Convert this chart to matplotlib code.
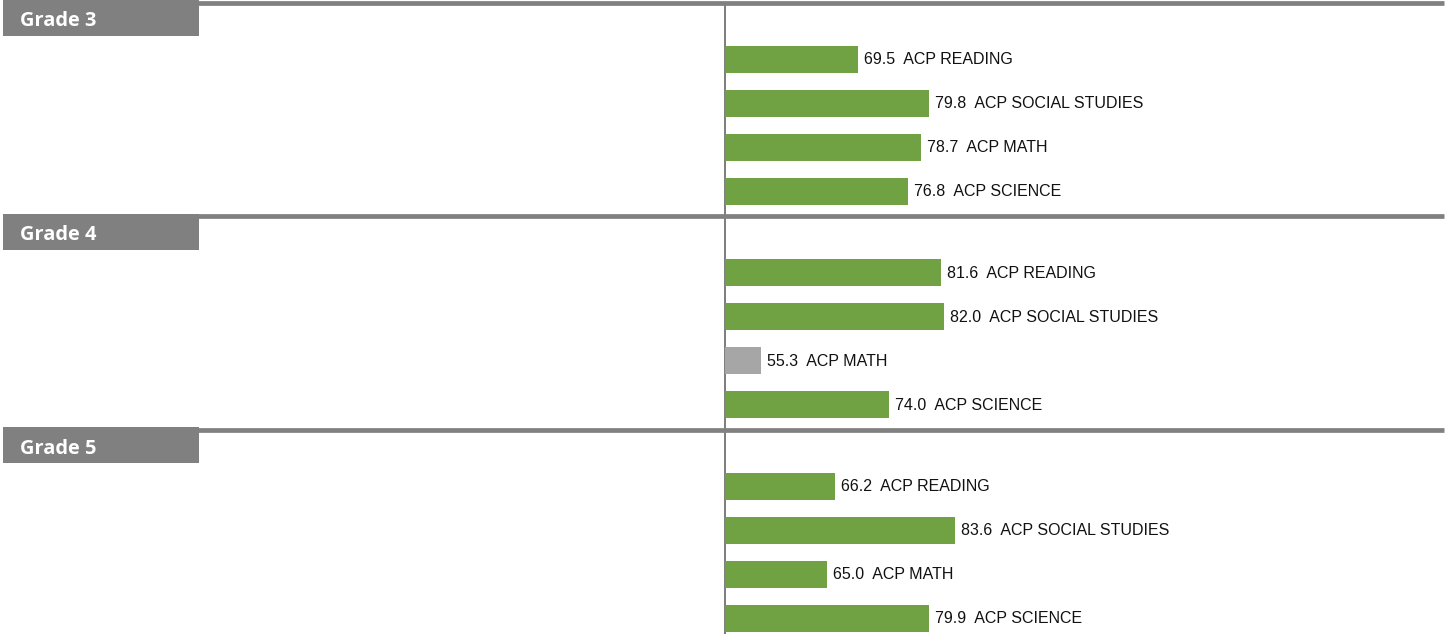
import matplotlib.pyplot as plt
from matplotlib.patches import Rectangle
from matplotlib.transforms import blended_transform_factory

grades = ['Grade 3', 'Grade 4', 'Grade 5']
subjects = ['ACP READING', 'ACP SOCIAL STUDIES', 'ACP MATH', 'ACP SCIENCE']
scores = [
    [69.5, 79.8, 78.7, 76.8],
    [81.6, 82.0, 55.3, 74.0],
    [66.2, 83.6, 65.0, 79.9],
]

BASE = 50      # bars grow from here
LIMITE = 60    # below this the bar is grey
VERDE = '#70a244'
CINZA = '#a6a6a6'
CABECALHO = '#808080'

W, H = 1452, 634
PX = 6.85      # pixels per point of score
EIXO = 724.5   # where the base line sits
fig = plt.figure(figsize=(W / 100, H / 100), dpi=100)
ax = fig.add_axes([0, 0, 1, 1])
ax.set_xlim(BASE - EIXO / PX, BASE + (W - EIXO) / PX)
ax.set_ylim(H, 0)
ax.axis('off')

tr = blended_transform_factory(ax.transAxes, ax.transData)

passo_grupo = 213.5
passo_barra = 44
altura_barra = 27

for g, grade in enumerate(grades):
    topo = 2.5 + g * passo_grupo
    # separator line and header tab
    ax.plot([3 / W, 1444 / W], [topo, topo], transform=tr, color=CABECALHO,
            lw=3.4, solid_capstyle='butt', zorder=3)
    ax.add_patch(Rectangle((3 / W, topo - 2.5), 196 / W, 36, transform=tr,
                           facecolor=CABECALHO, edgecolor='none', zorder=3))
    ax.text(20 / W, topo + 24, grade, transform=tr, color='white',
            fontsize=14.4, fontweight='bold', family='Open Sans',
            va='baseline', ha='left', zorder=4)

    for i, (subj, v) in enumerate(zip(subjects, scores[g])):
        y = topo + 56.5 + i * passo_barra
        cor = CINZA if v < LIMITE else VERDE
        ax.barh(y, v - BASE, left=BASE, height=altura_barra, color=cor, zorder=2)
        ax.text(v + 0.88, y + 0.5, f'{v:.1f}  {subj}', va='center', ha='left',
                fontsize=11.5, family='Liberation Sans', color='#111111')

ax.plot([BASE, BASE], [5, H], color='#595959', lw=1.1, zorder=1)

fig.savefig('out.png', dpi=100)
